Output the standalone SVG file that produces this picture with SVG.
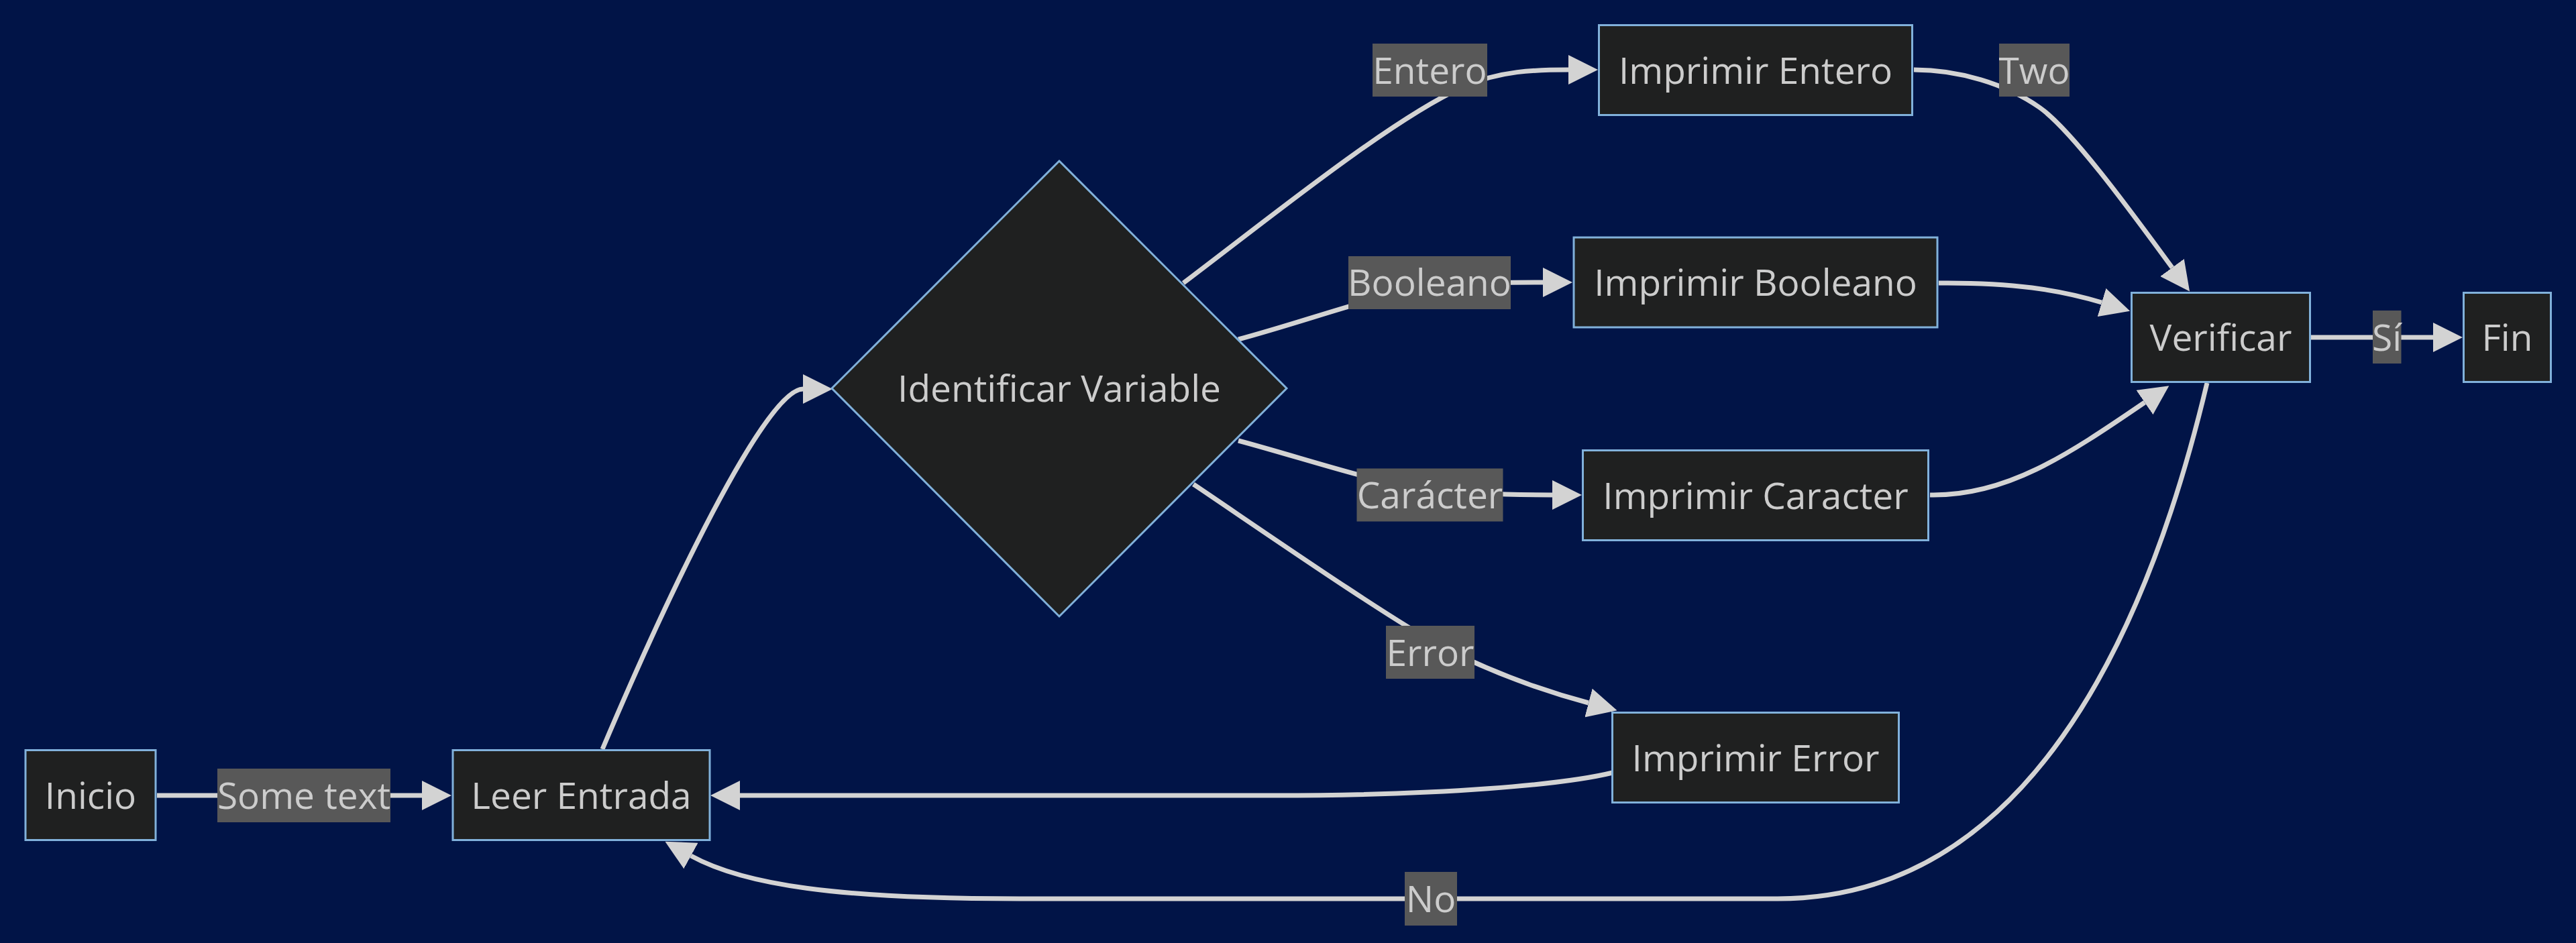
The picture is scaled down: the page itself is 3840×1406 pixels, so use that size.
<svg xmlns="http://www.w3.org/2000/svg" width="3840" height="1406" viewBox="0 0 3840 1406">
<defs>
<style>
.node rect, .node polygon { fill: #1f2020; stroke: #81b1db; stroke-width: 3; }
.node text, .lbl text { font-family: "Open Sans", "Noto Sans", sans-serif; font-size: 55px; fill: #cccccc; text-anchor: middle; }
.edges path { fill: none; stroke: #d3d3d3; stroke-width: 7; marker-end: url(#arrow); }
.lbl rect { fill: #585858; }
</style>
<marker id="arrow" markerUnits="userSpaceOnUse" markerWidth="44" markerHeight="44" viewBox="0 0 10 10" refX="0" refY="5" orient="auto">
<path d="M0,0 L10,5 L0,10 z" fill="#d3d3d3"/>
</marker>
</defs>
<rect x="0" y="0" width="3840" height="1406" fill="#011447"/>
<g id="connectors" class="edges">
<path d="M 234 1186 L 629 1186"/>
<path d="M 898 1117 C 990 900, 1140 580, 1197 580"/>
<path d="M 1764 422 C 1880 335, 2070 180, 2180 130 C 2235 105, 2290 104, 2338 104"/>
<path d="M 1846 506 C 1950 478, 2050 440, 2130 428 C 2200 421, 2260 421, 2300 421"/>
<path d="M 1846 657 C 1950 685, 2050 720, 2130 730 C 2200 737, 2260 738, 2314 738"/>
<path d="M 1779 722 C 1880 790, 2060 915, 2150 965 C 2230 1005, 2300 1030, 2368 1048"/>
<path d="M 2404 1152 C 2330 1170, 2150 1186, 1900 1186 L 1103 1186"/>
<path d="M 2853 104 C 2920 104, 2990 125, 3040 160 C 3090 195, 3185 327, 3238 399"/>
<path d="M 2890 422 C 3000 421, 3070 432, 3133 451"/>
<path d="M 2877 738 C 2990 740, 3080 680, 3197 600"/>
<path d="M 3445 503 L 3627 503"/>
<path d="M 3290 571 C 3200 950, 3020 1340, 2650 1340 L 1520 1340 C 1250 1340, 1110 1320, 1030 1276"/>
</g>
<g id="edge-labels">
<g class="lbl" id="lbl-sometext"><rect x="324" y="1146" width="258" height="80"/><text x="453" y="1206">Some text</text></g>
<g class="lbl" id="lbl-entero"><rect x="2046" y="65" width="171" height="79"/><text x="2131.5" y="124.5">Entero</text></g>
<g class="lbl" id="lbl-booleano"><rect x="2010" y="382" width="242" height="79"/><text x="2131" y="441">Booleano</text></g>
<g class="lbl" id="lbl-caracter"><rect x="2022.5" y="698.5" width="218" height="79"/><text x="2131.5" y="758">Carácter</text></g>
<g class="lbl" id="lbl-error"><rect x="2066" y="933" width="132" height="79"/><text x="2132" y="993">Error</text></g>
<g class="lbl" id="lbl-two"><rect x="2980" y="65" width="105" height="79"/><text x="3032.5" y="124.5">Two</text></g>
<g class="lbl" id="lbl-si"><rect x="3537" y="463" width="42.5" height="79"/><text x="3558" y="523">Sí</text></g>
<g class="lbl" id="lbl-no"><rect x="2094" y="1300" width="78" height="80"/><text x="2133" y="1360">No</text></g>
</g>
<g id="node-inicio" class="node"><rect x="38" y="1118.5" width="194" height="134"/><text x="135" y="1206">Inicio</text></g>
<g id="node-leer" class="node"><rect x="675" y="1118.5" width="383" height="134"/><text x="866.5" y="1206">Leer Entrada</text></g>
<g id="node-identificar" class="node"><polygon points="1579,240 1918,579 1579,919 1240,579"/><text x="1579" y="599">Identificar Variable</text></g>
<g id="node-entero" class="node"><rect x="2383.5" y="37.5" width="467" height="134"/><text x="2617" y="124.5">Imprimir Entero</text></g>
<g id="node-booleano" class="node"><rect x="2346" y="354" width="542" height="134"/><text x="2617" y="441">Imprimir Booleano</text></g>
<g id="node-caracter" class="node"><rect x="2359.5" y="671.5" width="515" height="134"/><text x="2617" y="758.5">Imprimir Caracter</text></g>
<g id="node-error" class="node"><rect x="2403.5" y="1062.5" width="427" height="134"/><text x="2617" y="1149.5">Imprimir Error</text></g>
<g id="node-verificar" class="node"><rect x="3177.5" y="436.5" width="266" height="133"/><text x="3310.5" y="523">Verificar</text></g>
<g id="node-fin" class="node"><rect x="3672.5" y="436.5" width="130" height="133"/><text x="3737.5" y="523">Fin</text></g>
</svg>
